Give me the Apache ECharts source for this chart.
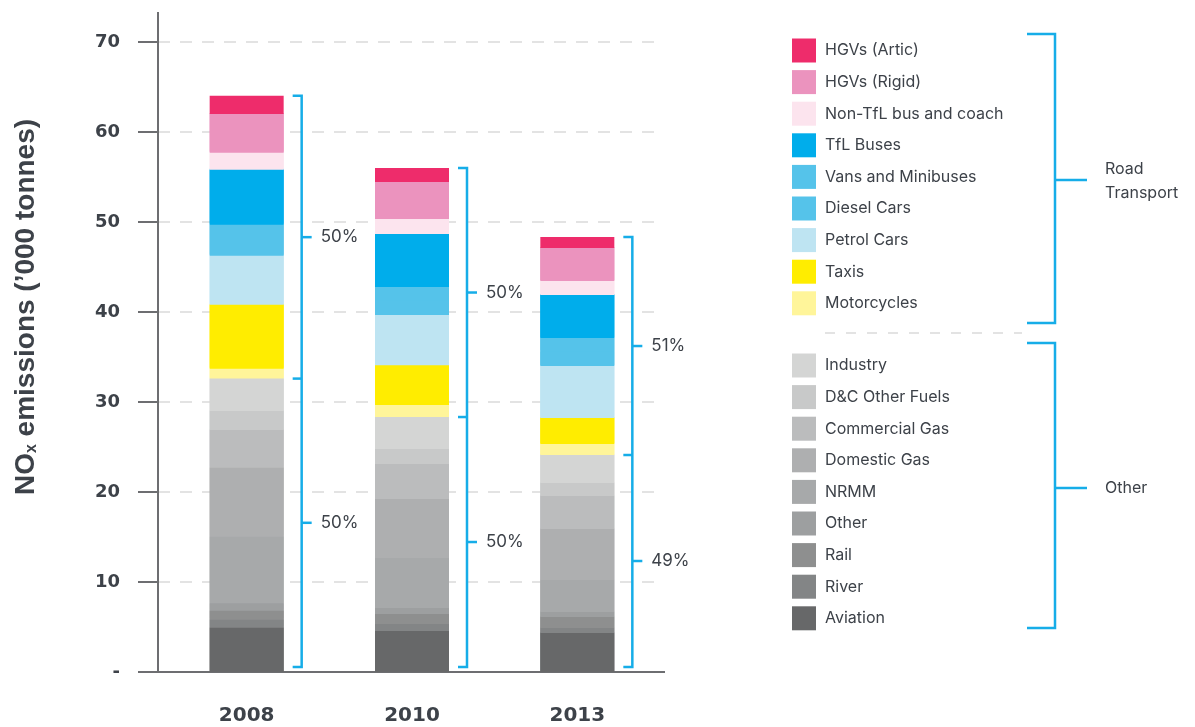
<!DOCTYPE html>
<html>
<head>
<meta charset="utf-8">
<script src="https://cdn.jsdelivr.net/npm/echarts@6/dist/echarts.min.js"></script>
<style>
  html, body { margin: 0; padding: 0; background: #fff; }
  #chart { width: 1195px; height: 727px; }
</style>
</head>
<body>
<div id="chart"></div>
<script>
const categories = ['2008', '2010', '2013'];

// "Other" sources, bottom of the stack first
const aviation      = [4.93, 4.56, 4.33];
const river         = [0.88, 0.77, 0.56];
const rail          = [1.00, 1.11, 1.22];
const otherSrc      = [0.82, 0.67, 0.56];
const nrmm          = [7.40, 5.56, 3.55];
const domesticGas   = [7.67, 6.55, 5.67];
const commercialGas = [4.20, 3.89, 3.67];
const dcOtherFuels  = [2.10, 1.67, 1.44];
const industry      = [3.60, 3.55, 3.11];

// road transport
const motorcycles = [1.10, 1.34, 1.22];
const taxis       = [7.10, 4.40, 2.89];
const petrolCars  = [5.46, 5.60, 5.78];
const dieselCars  = [1.84, 1.61, 1.61];
const vans        = [1.60, 1.50, 1.50];
const tflBuses    = [6.10, 5.89, 4.78];
const nonTflBus   = [1.90, 1.66, 1.55];
const hgvRigid    = [4.30, 4.11, 3.67];
const hgvArtic    = [2.03, 1.56, 1.22];

const roadPct  = ['50%', '50%', '51%'];
const otherPct = ['50%', '50%', '49%'];

const yTicks = [0, 10, 20, 30, 40, 50, 60, 70];

const TXT = '#3d4249';
const AXIS = '#6d6e71';
const BLUE = '#16ade8';
const BAR_W = 74;
const PAD_W = 12; // empty stack that nudges the bars right of the band centre
const SHIFT = PAD_W / 2;

const otherSeries = [
  ['Aviation', aviation, '#676869'],
  ['River', river, '#838586'],
  ['Rail', rail, '#8e8f8f'],
  ['Other', otherSrc, '#9d9fa0'],
  ['NRMM', nrmm, '#a7a9aa'],
  ['Domestic Gas', domesticGas, '#aeafb0'],
  ['Commercial Gas', commercialGas, '#bbbcbd'],
  ['D&C Other Fuels', dcOtherFuels, '#c8c9c9'],
  ['Industry', industry, '#d4d5d4']
];
const roadSeries = [
  ['Motorcycles', motorcycles, '#fff59a'],
  ['Taxis', taxis, '#ffed00'],
  ['Petrol Cars', petrolCars, '#bee4f2'],
  ['Diesel Cars', dieselCars, '#55c3ea'],
  ['Vans and Minibuses', vans, '#55c3ea'],
  ['TfL Buses', tflBuses, '#00adeb'],
  ['Non-TfL bus and coach', nonTflBus, '#fce4ee'],
  ['HGVs (Rigid)', hgvRigid, '#eb93be'],
  ['HGVs (Artic)', hgvArtic, '#ee2c6b']
];

function sumAt(list, i) {
  return list.reduce((s, d) => s + d[1][i], 0);
}
const bracketData = categories.map((c, i) => {
  const base = sumAt(otherSeries, i);
  return [i, base + sumAt(roadSeries, i), base];
});

const padSeries = {
  name: 'pad', type: 'bar', stack: 'pad', barWidth: PAD_W, barGap: '0%',
  data: categories.map(() => 0), itemStyle: { color: 'rgba(0,0,0,0)' }, silent: true
};

const allSeries = otherSeries.concat(roadSeries);
const barSeries = allSeries.map(([name, data, color], k) => ({
  name: name,
  type: 'bar',
  stack: 'total',
  barWidth: BAR_W,
  barGap: '0%',
  data: data,
  // a 1px copy upwards hides the anti-aliased seam under the next segment
  itemStyle: k < allSeries.length - 1
    ? { color: color, shadowColor: color, shadowOffsetY: -1, shadowBlur: 0 }
    : { color: color },
  emphasis: { disabled: true },
  silent: true
}));

function renderBracket(params, api) {
  const i = api.value(0);
  const top = api.coord([i, api.value(1)]);
  const mid = api.coord([i, api.value(2)]);
  const bot = api.coord([i, 0]);
  const x = top[0] + SHIFT + BAR_W / 2 + 18;
  const yb = bot[1] - 5;
  const y1 = (top[1] + mid[1]) / 2;
  const y2 = (mid[1] + yb) / 2;
  const ls = { stroke: BLUE, lineWidth: 2.5, fill: null };
  return {
    type: 'group',
    children: [
      { type: 'polyline', shape: { points: [[x - 9, top[1]], [x, top[1]], [x, yb], [x - 9, yb]] }, style: ls },
      { type: 'line', shape: { x1: x - 9, y1: mid[1], x2: x, y2: mid[1] }, style: ls },
      { type: 'line', shape: { x1: x, y1: y1, x2: x + 10, y2: y1 }, style: ls },
      { type: 'line', shape: { x1: x, y1: y2, x2: x + 10, y2: y2 }, style: ls },
      { type: 'text', x: x + 19, y: y1, style: { text: roadPct[params.dataIndex], fill: TXT, font: '17px Inter', verticalAlign: 'middle' } },
      { type: 'text', x: x + 19, y: y2, style: { text: otherPct[params.dataIndex], fill: TXT, font: '17px Inter', verticalAlign: 'middle' } }
    ]
  };
}

const legendText = { color: TXT, fontSize: 16, lineHeight: 18, fontFamily: 'Inter', padding: [0, 0, 0, 4] };

const chart = echarts.init(document.getElementById('chart'));
const option = {
  animation: false,
  grid: { left: 158, right: 541, top: 42, bottom: 55 },
  legend: [
    {
      data: roadSeries.map(d => d[0]).reverse(),
      orient: 'vertical', left: 787, top: 33.5,
      itemWidth: 24, itemHeight: 24, itemGap: 7.6,
      icon: 'rect', selectedMode: false, textStyle: legendText
    },
    {
      data: otherSeries.map(d => d[0]).reverse(),
      orient: 'vertical', left: 787, top: 348.5,
      itemWidth: 24, itemHeight: 24, itemGap: 7.6,
      icon: 'rect', selectedMode: false, textStyle: legendText
    }
  ],
  xAxis: {
    type: 'category',
    data: categories,
    axisLine: { lineStyle: { color: AXIS, width: 2 } },
    axisTick: { length: 18, lineStyle: { color: AXIS, width: 2 } },
    axisLabel: {
      margin: 34, color: TXT, fontSize: 20, fontWeight: 'bold', fontFamily: 'DejaVu Sans',
      padding: [0, 0, 0, 2 * SHIFT]
    }
  },
  yAxis: {
    type: 'value',
    min: 0, max: 70, interval: 10,
    axisLine: { show: true, lineStyle: { color: AXIS, width: 2 } },
    axisTick: { show: true, length: 20, lineStyle: { color: AXIS, width: 2 } },
    axisLabel: {
      margin: 38, color: TXT, fontSize: 18, fontWeight: 'bold', fontFamily: 'DejaVu Sans',
      formatter: v => (v === 0 ? '-' : String(v))
    },
    splitLine: { lineStyle: { color: '#e3e3e3', width: 2, type: [12, 10] } }
  },
  series: [padSeries].concat(barSeries, [{
    type: 'custom',
    name: 'brackets',
    renderItem: renderBracket,
    data: bracketData,
    encode: { x: 0, y: 1 },
    silent: true,
    z: 5
  }])
};
chart.setOption(option);

// decorations: axis overhang, title, legend group brackets
const pTop = chart.convertToPixel({ gridIndex: 0 }, [0, yTicks[yTicks.length - 1]]);
const p0 = chart.convertToPixel({ gridIndex: 0 }, [0, 0]);
const axisX = 158;
const bl = { stroke: BLUE, lineWidth: 2.5, fill: null };
function bracket(x, yTop, yBot, yMid) {
  return [
    { type: 'polyline', shape: { points: [[x - 28, yTop], [x, yTop], [x, yBot], [x - 28, yBot]] }, style: bl },
    { type: 'line', shape: { x1: x, y1: yMid, x2: x + 32, y2: yMid }, style: bl }
  ];
}
chart.setOption({
  graphic: [
    { type: 'line', shape: { x1: axisX, y1: pTop[1] - 30, x2: axisX, y2: pTop[1] }, style: { stroke: AXIS, lineWidth: 2 } },
    { type: 'line', shape: { x1: 654, y1: p0[1], x2: 665, y2: p0[1] }, style: { stroke: AXIS, lineWidth: 2 } },
    {
      type: 'text', x: 26, y: 307, rotation: Math.PI / 2,
      style: {
        text: '{a|NO}{s|x}{a| emissions (’000 tonnes)}',
        align: 'center', verticalAlign: 'middle',
        rich: {
          a: { fontSize: 28, fontWeight: 'bold', fontFamily: 'Liberation Sans', fill: TXT },
          s: { fontSize: 16, fontWeight: 'bold', fontFamily: 'Liberation Sans', fill: TXT, verticalAlign: 'bottom', padding: [10, 0, 0, 0] }
        }
      }
    },
    { type: 'line', shape: { x1: 825, y1: 333, x2: 1022, y2: 333 }, style: { stroke: '#e3e3e3', lineWidth: 2, lineDash: [10, 11] } },
    ...bracket(1055, 34, 323, 180),
    ...bracket(1055, 343, 628, 488),
    { type: 'text', x: 1105, y: 181, style: { text: 'Road\nTransport', fill: TXT, font: '16px Inter', lineHeight: 24, verticalAlign: 'middle' } },
    { type: 'text', x: 1105, y: 488, style: { text: 'Other', fill: TXT, font: '16px Inter', verticalAlign: 'middle' } }
  ]
});
</script>
</body>
</html>
